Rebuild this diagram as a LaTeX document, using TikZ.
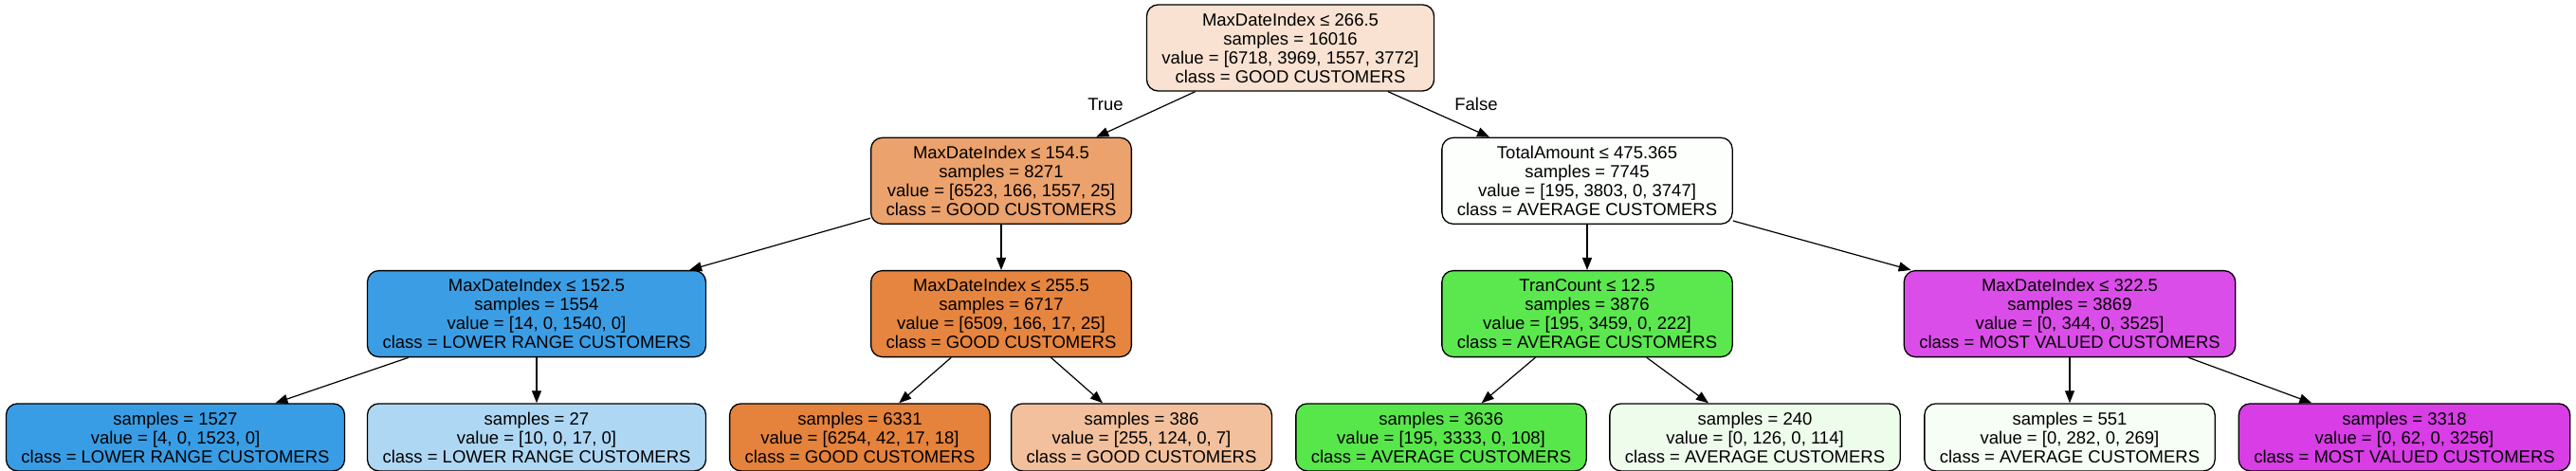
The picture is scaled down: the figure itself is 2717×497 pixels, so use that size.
\documentclass[tikz,border=0pt]{standalone}
\usepackage{fontspec}
\setmainfont{Liberation Sans}
\usetikzlibrary{positioning, arrows.meta}

\definecolor{good}{HTML}{E58139}
\definecolor{average}{HTML}{47E539}
\definecolor{lower}{HTML}{399DE5}
\definecolor{most}{HTML}{D739E5}

\tikzset{
  tree/.style={draw=black, line width=1.3pt, rounded corners=12pt, align=center,
    inner xsep=16pt, inner ysep=0pt, font=\fontsize{18.5}{20}\selectfont},
  split/.style={tree, minimum height=91pt},
  leaf/.style={tree, minimum height=71pt},
  link/.style={line width=1.2pt, -{Triangle[length=13pt,width=10pt]}},
  branch/.style={font=\fontsize{18.5}{20}\selectfont},
}

\begin{document}
\begin{tikzpicture}[x=1pt, y=-1pt]

  \path[use as bounding box, fill=white] (0,0) rectangle (2717,497);

  % Define nodes
  \node[split, fill=good!23] (root) at (1361,50.5)
    {MaxDateIndex ≤ 266.5\\samples = 16016\\value = [6718, 3969, 1557, 3772]\\class = GOOD CUSTOMERS};
  \node[split, fill=good!74, below=48pt of root, xshift=-305pt] (date1)
    {MaxDateIndex ≤ 154.5\\samples = 8271\\value = [6523, 166, 1557, 25]\\class = GOOD CUSTOMERS};
  \node[split, fill=average!1, below=48pt of root, xshift=313pt] (amount)
    {TotalAmount ≤ 475.365\\samples = 7745\\value = [195, 3803, 0, 3747]\\class = AVERAGE CUSTOMERS};

  \node[split, fill=lower!99, below=48pt of date1, xshift=-490pt] (date2)
    {MaxDateIndex ≤ 152.5\\samples = 1554\\value = [14, 0, 1540, 0]\\class = LOWER RANGE CUSTOMERS};
  \node[split, fill=good!97, below=48pt of date1] (date3)
    {MaxDateIndex ≤ 255.5\\samples = 6717\\value = [6509, 166, 17, 25]\\class = GOOD CUSTOMERS};
  \node[split, fill=average!89, below=48pt of amount] (count)
    {TranCount ≤ 12.5\\samples = 3876\\value = [195, 3459, 0, 222]\\class = AVERAGE CUSTOMERS};
  \node[split, fill=most!90, below=48pt of amount, xshift=509pt] (date4)
    {MaxDateIndex ≤ 322.5\\samples = 3869\\value = [0, 344, 0, 3525]\\class = MOST VALUED CUSTOMERS};

  \node[leaf, fill=lower, below=48pt of date2, xshift=-381pt] (low1)
    {samples = 1527\\value = [4, 0, 1523, 0]\\class = LOWER RANGE CUSTOMERS};
  \node[leaf, fill=lower!41, below=48pt of date2] (low2)
    {samples = 27\\value = [10, 0, 17, 0]\\class = LOWER RANGE CUSTOMERS};
  \node[leaf, fill=good!99, below=48pt of date3, xshift=-149pt] (good1)
    {samples = 6331\\value = [6254, 42, 17, 18]\\class = GOOD CUSTOMERS};
  \node[leaf, fill=good!50, below=48pt of date3, xshift=148pt] (good2)
    {samples = 386\\value = [255, 124, 0, 7]\\class = GOOD CUSTOMERS};
  \node[leaf, fill=average!91, below=48pt of count, xshift=-154pt] (avg1)
    {samples = 3636\\value = [195, 3333, 0, 108]\\class = AVERAGE CUSTOMERS};
  \node[leaf, fill=average!10, below=48pt of count, xshift=177pt] (avg2)
    {samples = 240\\value = [0, 126, 0, 114]\\class = AVERAGE CUSTOMERS};
  \node[leaf, fill=average!5, below=48pt of date4] (avg3)
    {samples = 551\\value = [0, 282, 0, 269]\\class = AVERAGE CUSTOMERS};
  \node[leaf, fill=most!98, below=48pt of date4, xshift=353pt] (most1)
    {samples = 3318\\value = [0, 62, 0, 3256]\\class = MOST VALUED CUSTOMERS};

  \node[branch] (true) at (1166,110) {True};
  \node[branch] (false) at (1557,110) {False};

  % Connect the nodes
  \draw[link] (root) -- (date1);
  \draw[link] (root) -- (amount);
  \draw[link] (date1) -- (date2);
  \draw[link] (date1) -- (date3);
  \draw[link] (amount) -- (count);
  \draw[link] (amount) -- (date4);
  \draw[link] (date2) -- (low1);
  \draw[link] (date2) -- (low2);
  \draw[link] (date3) -- (good1);
  \draw[link] (date3) -- (good2);
  \draw[link] (count) -- (avg1);
  \draw[link] (count) -- (avg2);
  \draw[link] (date4) -- (avg3);
  \draw[link] (date4) -- (most1);

\end{tikzpicture}
\end{document}
